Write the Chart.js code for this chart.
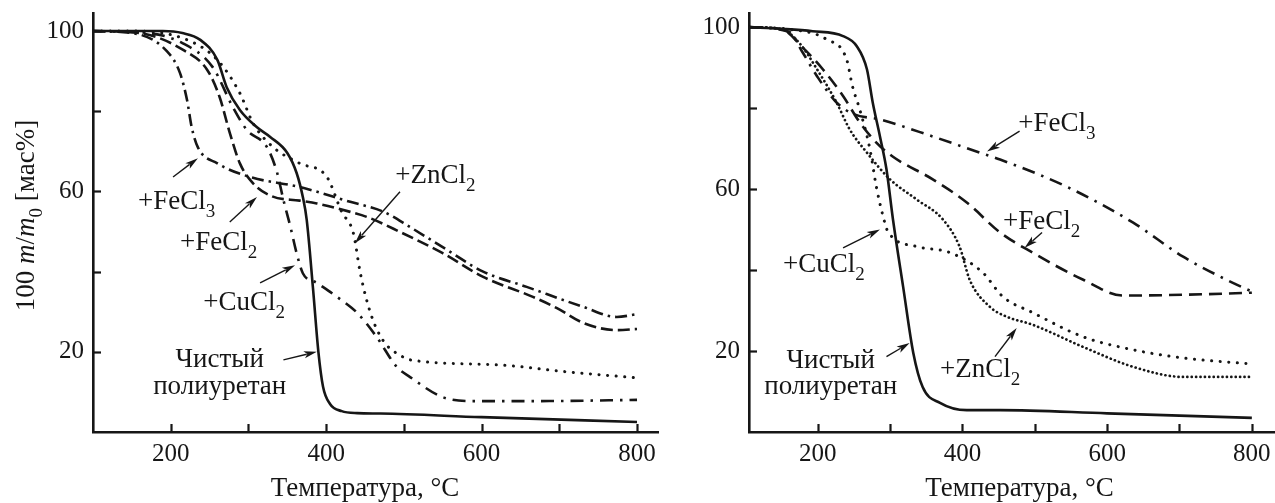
<!DOCTYPE html>
<html lang="ru">
<head>
<meta charset="utf-8">
<title>Термогравиметрия полиуретана</title>
<script src="https://cdn.jsdelivr.net/npm/chart.js@4.4.1/dist/chart.umd.min.js"></script>
<style>
    html, body { margin: 0; padding: 0; background: #fff; overflow: hidden; }
    #wrap { position: relative; width: 1275px; height: 503px; }
    canvas { position: absolute; top: 0; }
    #leftChart { left: 0; }
    #rightChart { left: 640px; }
</style>
</head>
<body>
<div id="wrap">
    <canvas id="leftChart" width="660" height="503"></canvas>
    <canvas id="rightChart" width="635" height="503"></canvas>
</div>
<script>
// Оси
const xTickValues = [200, 300, 400, 500, 600, 700, 800];
const xLabelValues = [200, 400, 600, 800];
const yTickValues = [20, 40, 60, 80, 100];
const yLabelValues = [20, 60, 100];

// Левая панель: температура (°C) и остаточная масса (мас%)
const leftPureT = [100, 150, 190, 215, 238, 260, 272, 289, 311, 328, 350, 362, 370, 375, 383, 390, 396, 405, 420, 440, 470, 600, 800];
const leftPureM = [100, 100, 100, 99.5, 97.8, 92.8, 86, 80.3, 76, 73.6, 69.6, 64.6, 58.6, 52.9, 36, 20, 11.3, 7, 5.2, 4.7, 4.6, 3.7, 2.5];

const leftFeCl3T = [100, 150, 195, 212, 221, 227, 235, 260, 302, 366, 431, 473, 508, 550, 602, 658, 731, 774, 800];
const leftFeCl3M = [100, 99.5, 95, 89.5, 82.8, 76, 71, 67, 63.6, 61.1, 57.4, 55, 51.1, 46.1, 40, 36.2, 31.2, 28.7, 29.4];

const leftFeCl2T = [100, 160, 216, 247, 263, 276, 289, 306, 330, 366, 388, 431, 453, 495, 550, 602, 666, 697, 731, 774, 800];
const leftFeCl2M = [100, 99.5, 95.3, 90.3, 83.5, 74.6, 67, 62, 58.8, 57.7, 57, 54.9, 53.6, 49.9, 44.6, 38.7, 33.7, 30.9, 27.2, 25.4, 25.7];

const leftZnCl2T = [100, 150, 221, 260, 289, 306, 332, 366, 401, 420, 435, 444, 457, 473, 499, 508, 624, 710, 800];
const leftZnCl2M = [100, 100, 97.8, 92.8, 84.5, 77, 71, 67, 63.6, 54.9, 49.6, 39.6, 29.7, 22.9, 18.7, 18, 16.7, 15, 13.5];

const leftCuCl2T = [100, 170, 215, 254, 280, 298, 324, 337, 345, 354, 362, 370, 388, 414, 440, 465, 491, 508, 550, 589, 666, 800];
const leftCuCl2M = [100, 99.5, 97, 91, 81, 75.3, 71, 64.6, 57.9, 51.2, 44.6, 39.6, 37.2, 33.7, 29.7, 23.7, 16.2, 13.7, 8.7, 7.7, 7.7, 8];

// Правая панель
const rightPureT = [105, 150, 193, 235, 254, 268, 276, 286, 295, 304, 318, 332, 345, 369, 406, 452, 600, 800];
const rightPureM = [100, 99.6, 99, 97.8, 95.3, 89.6, 81.4, 73, 64.9, 52.5, 35.9, 19.6, 11.1, 7.2, 5.4, 5.4, 4.6, 3.5];

const rightFeCl3T = [105, 161, 179, 199, 226, 250, 286, 359, 424, 452, 544, 636, 705, 765, 800];
const rightFeCl3M = [100, 98.8, 93.8, 87.9, 81.4, 78.5, 77.2, 73, 69, 67.3, 60.6, 51.7, 43.3, 37.6, 34.7];

const rightFeCl2T = [105, 150, 179, 207, 235, 258, 281, 304, 359, 406, 452, 497, 567, 622, 705, 800];
const rightFeCl2M = [100, 99.5, 95, 89.6, 83, 76.5, 71.5, 68, 62.4, 56.7, 49.3, 44.3, 37.6, 33.7, 33.9, 34.4];

const rightCuCl2T = [105, 160, 212, 240, 248, 258, 272, 281, 290, 297, 337, 383, 428, 456, 497, 567, 636, 705, 800];
const rightCuCl2M = [100, 99.5, 97, 92, 85.4, 79.7, 70, 60.6, 53.5, 49.5, 45.8, 44.3, 39.4, 33.4, 29.5, 23.5, 20.3, 18.3, 16.8];

const rightZnCl2T = [105, 150, 175, 199, 226, 244, 268, 300, 337, 373, 396, 410, 438, 461, 497, 567, 636, 705, 800];
const rightZnCl2M = [100, 99.5, 96, 89.6, 81.4, 74.8, 69, 62.4, 57.4, 52.5, 45.8, 37.6, 30.9, 28.5, 26.5, 21, 16.1, 13.6, 13.6];

const INK = '#161616';
const FONT = "'Liberation Serif', 'DejaVu Serif', serif";
const TICK_SIZE = 25;
const FONT_SIZE = 27;

Chart.defaults.font.family = FONT;
Chart.defaults.color = INK;

// Стили линий
const SOLID = { dash: [], width: 2.6, cap: 'butt' };
const DASH = { dash: [12, 5], width: 2.6, cap: 'butt' };
const DASH_DOT = { dash: [12, 5, 2.5, 5], width: 2.6, cap: 'butt' };
const DASH_DOT_WIDE = { dash: [13, 7, 2.5, 7], width: 2.6, cap: 'butt' };
const DOTS = { dash: [0.1, 8.5], width: 3, cap: 'round' };
const DOTS_DENSE = { dash: [0.1, 4.3], width: 2.7, cap: 'round' };

// Подписи кривых и стрелки (в координатах данных)
const leftNotes = [
    { text: '+FeCl_3', x: 158, y: 55.6, from: [203, 63.6], to: [235, 68.3] },
    { text: '+FeCl_2', x: 212, y: 45.4, from: [276, 52.4], to: [311, 58.6] },
    { text: '+CuCl_2', x: 242, y: 30.4, from: [315, 37.2], to: [360, 41.6] },
    { text: '+ZnCl_2', x: 489, y: 62.1, from: [495, 59.9], to: [437, 47.1] },
    { text: 'Чистый', x: 263, y: 16.2, center: true },
    { text: 'полиуретан', x: 263, y: 9.5, center: true, from: [345, 18], to: [388, 20] }
];

const rightNotes = [
    { text: '+FeCl_3', x: 477, y: 74.3, from: [479, 74.3], to: [434, 69.3] },
    { text: '+FeCl_2', x: 456, y: 50.2, from: [510, 49.3], to: [486, 45.5] },
    { text: '+CuCl_2', x: 152, y: 39.4, from: [235, 45.5], to: [286, 50] },
    { text: '+ZnCl_2', x: 369, y: 13.6, from: [445, 18.6], to: [475, 25.7] },
    { text: 'Чистый', x: 218, y: 15.8, center: true },
    { text: 'полиуретан', x: 218, y: 9.4, center: true, from: [295, 18.6], to: [327, 22] }
];

// Разбор "+FeCl_3" на куски с нижним индексом
function toRuns(text) {
    const runs = [];
    const parts = text.split('_');
    runs.push({ t: parts[0] });
    for (let i = 1; i < parts.length; i++) {
        runs.push({ t: parts[i].charAt(0), sub: true });
        if (parts[i].length > 1) runs.push({ t: parts[i].slice(1) });
    }
    return runs;
}

function runFont(r) {
    const size = r.sub ? Math.round(FONT_SIZE * 0.72) : FONT_SIZE;
    return (r.it ? 'italic ' : '') + size + 'px ' + FONT;
}

function drawRuns(ctx, runs, x, y, center) {
    let total = 0;
    runs.forEach(r => {
        ctx.font = runFont(r);
        r.w = ctx.measureText(r.t).width;
        total += r.w;
    });
    let cx = center ? x - total / 2 : x;
    runs.forEach(r => {
        ctx.font = runFont(r);
        ctx.fillText(r.t, cx, y + (r.sub ? 8 : 0));
        cx += r.w;
    });
}

function drawArrow(ctx, x1, y1, x2, y2) {
    const ang = Math.atan2(y2 - y1, x2 - x1);
    const len = 13, half = 3.6;
    ctx.beginPath();
    ctx.moveTo(x1, y1);
    ctx.lineTo(x2 - Math.cos(ang) * len * 0.8, y2 - Math.sin(ang) * len * 0.8);
    ctx.stroke();
    ctx.beginPath();
    ctx.moveTo(x2, y2);
    ctx.lineTo(x2 - Math.cos(ang) * len - Math.sin(ang) * half, y2 - Math.sin(ang) * len + Math.cos(ang) * half);
    ctx.lineTo(x2 - Math.cos(ang) * len * 0.75, y2 - Math.sin(ang) * len * 0.75);
    ctx.lineTo(x2 - Math.cos(ang) * len + Math.sin(ang) * half, y2 - Math.sin(ang) * len - Math.cos(ang) * half);
    ctx.closePath();
    ctx.fill();
}

// Засечки внутрь, подписи, стрелки и названия осей
const decorPlugin = {
    id: 'decor',
    afterDraw(chart, args, opts) {
        const ctx = chart.ctx;
        const xs = chart.scales.x;
        const ys = chart.scales.y;
        const area = chart.chartArea;
        ctx.save();
        ctx.strokeStyle = INK;
        ctx.fillStyle = INK;

        ctx.lineWidth = 2.2;
        xTickValues.forEach(v => {
            const px = Math.round(xs.getPixelForValue(v)) + 0.5;
            ctx.beginPath();
            ctx.moveTo(px, area.bottom);
            ctx.lineTo(px, area.bottom - 8);
            ctx.stroke();
        });
        yTickValues.forEach(v => {
            const py = Math.round(ys.getPixelForValue(v)) + 0.5;
            ctx.beginPath();
            ctx.moveTo(area.left, py);
            ctx.lineTo(area.left + 8, py);
            ctx.stroke();
        });

        ctx.textBaseline = 'alphabetic';
        ctx.textAlign = 'left';
        ctx.lineWidth = 1.4;
        opts.notes.forEach(n => {
            drawRuns(ctx, toRuns(n.text), xs.getPixelForValue(n.x), ys.getPixelForValue(n.y), n.center);
            if (n.from) {
                drawArrow(ctx,
                    xs.getPixelForValue(n.from[0]), ys.getPixelForValue(n.from[1]),
                    xs.getPixelForValue(n.to[0]), ys.getPixelForValue(n.to[1]));
            }
        });

        // Температура, °C
        ctx.font = FONT_SIZE + 'px ' + FONT;
        ctx.textAlign = 'center';
        ctx.fillText('Температура, °C', xs.getPixelForValue(opts.xTitleAt), 496);

        // 100 m/m0 [мас%]
        if (opts.yTitle) {
            ctx.save();
            ctx.translate(34, (area.top + area.bottom) / 2 - 7);
            ctx.rotate(-Math.PI / 2);
            ctx.textAlign = 'left';
            drawRuns(ctx, [
                { t: '100 ' }, { t: 'm', it: true }, { t: '/' }, { t: 'm', it: true },
                { t: '0', sub: true }, { t: ' [мас%]' }
            ], 0, 0, true);
            ctx.restore();
        }
        ctx.restore();
    }
};

function makeDataset(temps, mass, style) {
    return {
        data: temps.map((t, i) => ({ x: t, y: mass[i] })),
        borderColor: INK,
        borderWidth: style.width,
        borderDash: style.dash,
        borderCapStyle: style.cap,
        pointRadius: 0,
        fill: false,
        cubicInterpolationMode: 'monotone'
    };
}

function makeChart(canvasId, datasets, panel) {
    return new Chart(document.getElementById(canvasId), {
        type: 'line',
        data: { datasets: datasets },
        options: {
            responsive: false,
            animation: false,
            events: [],
            layout: { padding: { top: 13, right: panel.padRight, left: 0, bottom: 0 } },
            plugins: {
                legend: { display: false },
                tooltip: { enabled: false },
                decor: { notes: panel.notes, xTitleAt: panel.xTitleAt, yTitle: panel.yTitle }
            },
            scales: {
                x: {
                    type: 'linear',
                    min: panel.xMin,
                    max: panel.xMax,
                    afterBuildTicks: sc => { sc.ticks = xTickValues.map(v => ({ value: v })); },
                    afterFit: sc => { sc.height = 71; sc.paddingLeft = 0; sc.paddingRight = 0; },
                    grid: { display: false, drawTicks: false },
                    border: { display: true, color: INK, width: 2.6 },
                    ticks: {
                        color: INK,
                        font: { size: TICK_SIZE },
                        padding: 7,
                        maxRotation: 0,
                        autoSkip: false,
                        callback: v => xLabelValues.includes(v) ? String(v) : ''
                    }
                },
                y: {
                    type: 'linear',
                    min: 0,
                    max: panel.yMax,
                    afterBuildTicks: sc => { sc.ticks = yTickValues.map(v => ({ value: v })); },
                    afterFit: sc => { sc.width = panel.yWidth; sc.paddingTop = 0; sc.paddingBottom = 0; },
                    grid: { display: false, drawTicks: false },
                    border: { display: true, color: INK, width: 2.6 },
                    ticks: {
                        color: INK,
                        font: { size: TICK_SIZE },
                        padding: 9,
                        autoSkip: false,
                        callback: v => yLabelValues.includes(v) ? String(v) : ''
                    }
                }
            }
        },
        plugins: [decorPlugin]
    });
}

makeChart('leftChart', [
    makeDataset(leftPureT, leftPureM, SOLID),
    makeDataset(leftFeCl3T, leftFeCl3M, DASH_DOT),
    makeDataset(leftFeCl2T, leftFeCl2M, DASH),
    makeDataset(leftZnCl2T, leftZnCl2M, DOTS),
    makeDataset(leftCuCl2T, leftCuCl2M, DASH_DOT_WIDE)
], { xMin: 100, xMax: 827, yMax: 104.5, yWidth: 93, padRight: 2, notes: leftNotes, xTitleAt: 450, yTitle: true });

makeChart('rightChart', [
    makeDataset(rightPureT, rightPureM, SOLID),
    makeDataset(rightFeCl3T, rightFeCl3M, DASH_DOT_WIDE),
    makeDataset(rightFeCl2T, rightFeCl2M, { dash: [13, 7], width: 2.6, cap: 'butt' }),
    makeDataset(rightCuCl2T, rightCuCl2M, DOTS),
    makeDataset(rightZnCl2T, rightZnCl2M, DOTS_DENSE)
], { xMin: 105, xMax: 832, yMax: 103.5, yWidth: 109, padRight: 0, notes: rightNotes, xTitleAt: 479, yTitle: false });
</script>
</body>
</html>
